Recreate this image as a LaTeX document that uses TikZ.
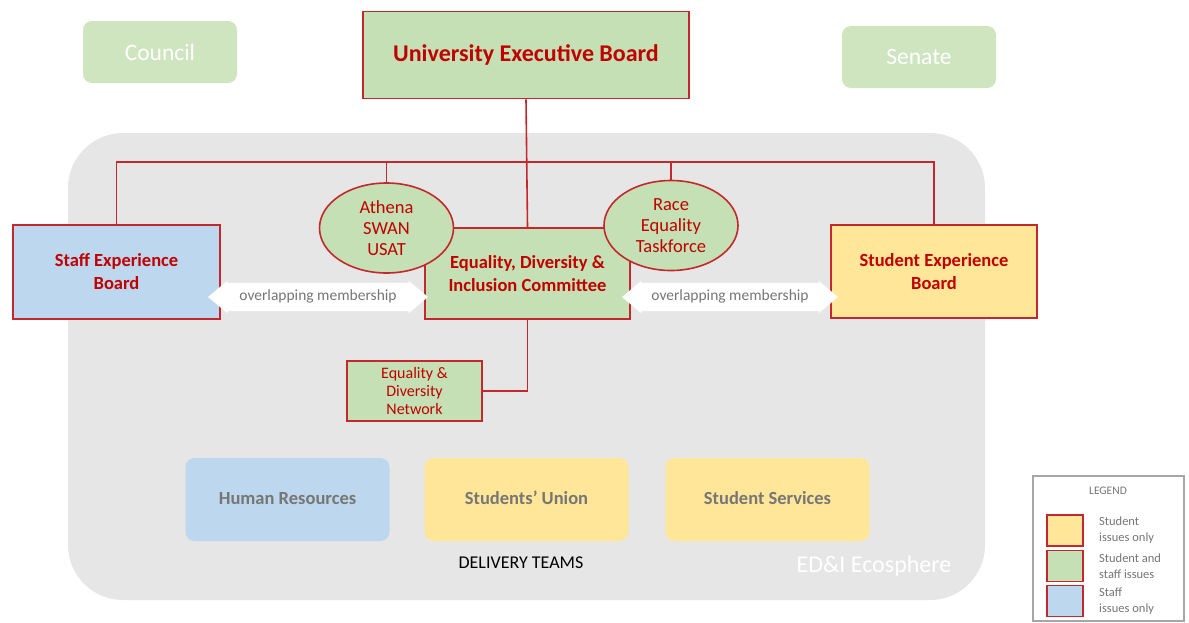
\documentclass[tikz,border=0pt]{standalone}
\usepackage{fontspec}
\setmainfont{Carlito}
\usepackage{xcolor}
\usepackage{tikz}
\usetikzlibrary{arrows.meta,positioning,shapes.geometric,shapes.arrows,calc}
\definecolor{boardred}{RGB}{192,0,0}
\definecolor{edgered}{RGB}{196,40,44}
\definecolor{leafgreen}{RGB}{197,224,180}
\definecolor{skyblue}{RGB}{189,215,238}
\definecolor{butter}{RGB}{255,230,153}
\definecolor{ecogrey}{RGB}{230,230,230}
\definecolor{txtgrey}{RGB}{118,118,118}
\newcommand{\fs}[2]{\fontsize{#1}{#2}\selectfont}

\begin{document}
\begin{tikzpicture}[x=1pt,y=-1pt,
 bd/.style={draw=edgered,line width=1.6pt,align=center,inner sep=0pt,text=boardred},
 big/.style={bd,font=\bfseries\fs{18.5}{23}},
 gbox/.style={big,fill=leafgreen},
 oval/.style={bd,ellipse,fill=leafgreen,minimum width=134pt,minimum height=90pt,font=\fs{18.5}{21}},
 team/.style={rounded corners=9pt,minimum width=204pt,minimum height=83pt,inner sep=0pt,text height=13pt,text depth=4pt,font=\bfseries\fs{18.5}{22},text=txtgrey},
 top/.style={fill=leafgreen!85,rounded corners=9pt,minimum width=154pt,minimum height=62pt,text=white,font=\fs{23.5}{26}},
 over/.style={double arrow,fill=white,text=txtgrey,font=\fs{15.5}{17},text height=10pt,text depth=3pt,inner ysep=7.5pt,inner xsep=2pt,double arrow head extend=2pt,double arrow tip angle=80},
 swatch/.style={draw=edgered,line width=1.4pt,minimum width=36pt,minimum height=31pt,inner sep=0pt},
 key/.style={anchor=west,align=left,text=txtgrey,inner sep=0pt,font=\fs{12.5}{16}},
 link/.style={draw=edgered,line width=1.6pt}]
\useasboundingbox (0,0) rectangle (1189,622);
% ecosphere background
\fill[ecogrey,rounded corners=55pt] (68,133) rectangle (985,600);
\node[text=white,font=\fs{24}{26}] (eco) at (874,566) {ED\&I Ecosphere};

% governance
\node[top] (council) at (160,52) {Council};
\node[top] (senate) at (919,57) {Senate};
\node[gbox,minimum width=326pt,minimum height=87pt,font=\bfseries\fs{24}{28}] (ueb) at (526,55) {University Executive Board};

% boards
\node[big,fill=skyblue,minimum width=207pt,minimum height=94pt] (staff) at (116.5,272) {Staff Experience\\Board};
\node[big,fill=butter,minimum width=206pt,minimum height=93pt] (student) at (934,271.5) {Student Experience\\Board};
\node[gbox,minimum width=205pt,minimum height=91pt] (edi) at (527.5,273.5) {Equality, Diversity \&\\Inclusion Committee};
\node[gbox,font=\fs{16}{18},minimum width=135pt,minimum height=60pt] (network) at (414.5,391) {Equality \&\\Diversity\\Network};

% links from the executive board
\coordinate (bus) at (526,162);
\draw[link] (ueb.south) -- (edi.north);
\draw[link] (staff.north) |- (bus) -| (student.north);
\draw[link] (edi.south) |- (network.east);

\node[oval] (athena) at (386.5,228) {Athena\\SWAN\\USAT};
\node[oval] (race) at (671,225.5) {Race\\Equality\\Taskforce};
\draw[link] (athena.north) -- (athena.north |- bus);
\draw[link] (race.north) -- (race.north |- bus);

\node[over,minimum height=220pt] (ov1) at (318,297) {overlapping membership};
\node[over,minimum height=216pt] (ov2) at (730,297) {overlapping membership};

% delivery teams
\node[team,fill=skyblue] (hr) at (287.5,499.5) {Human Resources};
\node[team,fill=butter] (su) at (526.5,499.5) {Students’ Union};
\node[team,fill=butter] (ss) at (767.5,499.5) {Student Services};
\node[font=\fs{18}{20}] (dt) at (521,563) {DELIVERY TEAMS};

% legend
\draw[draw=black!35,line width=1.2pt,fill=white] (1033,476) rectangle (1184,621);
\node[text=txtgrey,font=\fs{11.5}{13}] (lg) at (1108,491) {LEGEND};
\node[swatch,fill=butter] (k1) at (1065,530.5) {};
\node[swatch,fill=leafgreen] (k2) at (1065,566) {};
\node[swatch,fill=skyblue] (k3) at (1065,601) {};
\node[key] (t1) at (1099,530.5) {Student\\issues only};
\node[key] (t2) at (1099,566) {Student and\\staff issues};
\node[key] (t3) at (1099,601) {Staff\\issues only};
\end{tikzpicture}
\end{document}
